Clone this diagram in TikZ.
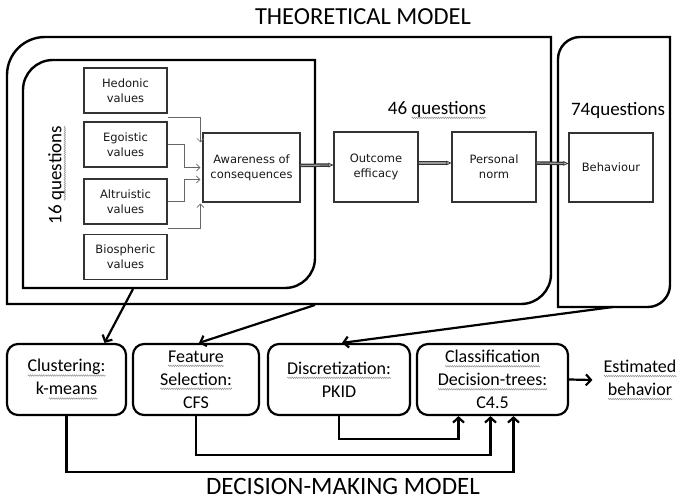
\documentclass[tikz,border=0pt]{standalone}
\usepackage{fontspec}
\setmainfont{Carlito}
\newfontfamily\dv{DejaVu Sans}
\usetikzlibrary{arrows.meta,calc,decorations.pathmorphing}
\newsavebox\sqbox
\newlength\sqwd
\newcommand\sq[1]{\sbox\sqbox{#1}\setlength\sqwd{\wd\sqbox}\leavevmode\rlap{\tikz[baseline=0pt,x=1pt,y=1pt]\draw[black!45,line width=0.45pt,sharp corners,solid,decorate,decoration={zigzag,amplitude=0.8pt,segment length=2.2pt}] (0,-3.6) -- (\the\sqwd,-3.6);}\usebox\sqbox}
\begin{document}
\begin{tikzpicture}[x=1pt,y=-1pt,
  container/.style={line width=2.4pt,draw=black},
  valbox/.style={draw=black!80,line width=1.1pt,minimum width=83pt,minimum height=45pt,inner sep=0pt,align=center,font=\dv\fontsize{11.5}{15}\selectfont,text=black!90},
  stagebox/.style={draw=black!80,line width=1.1pt,minimum width=84pt,minimum height=70pt,inner sep=0pt,align=center,font=\dv\fontsize{11.5}{15}\selectfont,text=black!90},
  valarr/.style={draw=black!60,line width=0.7pt,-{Straight Barb[length=3.5pt,width=7pt]}},
  dblarr/.style={draw=black!80,line width=1.2pt,double=black!40,double distance=1.1pt,-{Triangle[open,length=5pt,width=4.5pt,line width=0.8pt]}},
  dmbox/.style={draw=black,line width=2.2pt,rounded corners=11pt,minimum height=71pt,inner sep=0pt,align=center,font=\fontsize{18}{23}\selectfont},
  conn/.style={draw=black,line width=2.2pt,-{Straight Barb[length=5pt,width=11pt]}},
  qlabel/.style={font=\fontsize{19}{23}\selectfont}
]
\useasboundingbox (0,0) rectangle (680,502);
\fill[white] (0,0) rectangle (680,502);

% titles
\node[font=\fontsize{24.5}{28}\selectfont,anchor=base,inner sep=0pt] (t1) at (363,25) {THEORETICAL MODEL};
\node[font=\fontsize{25}{28}\selectfont,anchor=base,inner sep=0pt] (t2) at (343,494) {DECISION-MAKING MODEL};

% containers
\draw[container] (7,304) -- (7,75) .. controls (7,54) and (24,37) .. (45,37) -- (551,37) -- (551,274) .. controls (551,290.6) and (537.6,304) .. (521,304) -- cycle;
\draw[container] (23,288) -- (23,90) .. controls (23,73.4) and (36.4,60) .. (53,60) -- (315,60) -- (315,258) .. controls (315,274.6) and (301.6,288) .. (285,288) -- cycle;
\draw[container] (558,307) -- (558,59) .. controls (558,47) and (568,37) .. (580,37) -- (670,37) -- (670,285) .. controls (670,297) and (660,307) .. (648,307) -- cycle;
\coordinate (ib) at (133,289);
\coordinate (ob) at (315,305);
\coordinate (bb) at (613,307);

% question labels
\node[qlabel,rotate=90] (q16) at (57,175) {16 \sq{questions}};
\node[qlabel] (q46) at (437,110) {46 \sq{questions}};
\node[qlabel] (q74) at (618,110) {74questions};

% value boxes
\node[valbox] (hed) at (125.5,90.5) {Hedonic\\values};
\node[valbox] (ego) at (125.5,144.5) {Egoistic\\values};
\node[valbox] (alt) at (125.5,201.5) {Altruistic\\values};
\node[valbox] (bio) at (125.5,257) {Biospheric\\values};

% stage boxes
\node[stagebox,minimum width=97pt,minimum height=69pt] (aw) at (251.5,167.5) {Awareness of\\consequences};
\node[stagebox] (oe) at (376,167) {Outcome\\efficacy};
\node[stagebox] (pn) at (494,167) {Personal\\norm};
\node[stagebox,minimum height=69pt] (beh) at (611,167.5) {Behaviour};

% value connectors
\draw[valarr] ([yshift=-4pt]hed.south east) -| ([xshift=-2pt,yshift=-10pt]aw.north west);
\draw[valarr] (ego.east) -- ++(17,0) |- ([xshift=-2pt]aw.west);
\draw[valarr] (alt.east) -- ++(17,0) |- ([xshift=-2pt,yshift=-12pt]aw.west);
\draw[valarr] ([yshift=6pt]bio.north east) -| ([xshift=-2pt,yshift=-1pt]aw.south west);

% stage connectors
\draw[dblarr] ([yshift=2pt]aw.east) -- ([yshift=2pt]oe.west);
\draw[dblarr] ([yshift=4pt]oe.east) -- ([yshift=4pt]pn.west);
\draw[dblarr] ([yshift=4pt]pn.east) -- ([yshift=4pt]beh.west);

% decision-making boxes
\node[dmbox,minimum width=119pt] (clu) at (66.5,379.5) {\sq{Clustering:}\\k-\sq{means}};
\node[dmbox,minimum width=126pt] (fs) at (196,379.5) {\sq{Feature}\\\sq{Selection:}\\CFS};
\node[dmbox,minimum width=142pt] (dis) at (339,379.5) {\sq{Discretization:}\\PKID};
\node[dmbox,minimum width=151pt] (cls) at (492.5,379.5) {\sq{Classification}\\\sq{Decision-trees:}\\C4.5};
\node[align=center,font=\fontsize{18}{23}\selectfont,inner sep=2pt] (est) at (640,380) {\sq{Estimated}\\\sq{behavior}};

% top-down connectors
\draw[conn] (ib) -- ([xshift=38pt]clu.north);
\draw[conn] (ob) -- ([xshift=3pt]fs.north);
\draw[conn] (bb) -- ([xshift=3pt]dis.north);

% bottom connectors
\draw[conn] (dis.south) -- ++(0,23) -| ([xshift=-34pt]cls.south);
\draw[conn] (fs.south) -- ++(0,39) -| ([xshift=-2pt]cls.south);
\draw[conn] (clu.south) -- ++(0,56) -| ([xshift=21pt]cls.south);
\draw[conn] (cls.east) -- ([xshift=-9pt]est.west);
\end{tikzpicture}
\end{document}
